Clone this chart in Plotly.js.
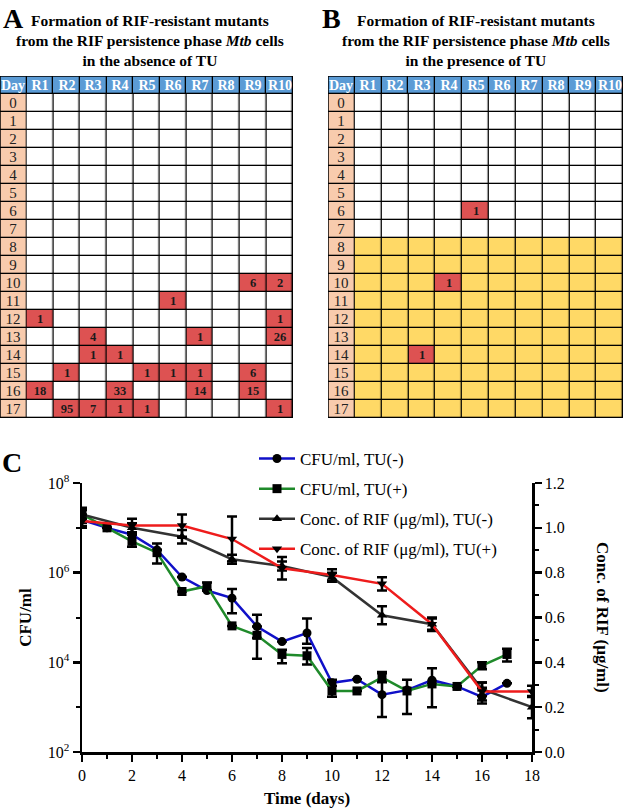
<!DOCTYPE html>
<html><head><meta charset="utf-8">
<script src="https://cdn.plot.ly/plotly-3.0.1.min.js"></script>
<style>html,body{margin:0;padding:0;background:#fff;} #chart{width:625px;height:811px;}</style>
</head><body><div id="chart"></div>
<script>
// ---------- Panels A & B: tables ----------
const replicates = ['R1','R2','R3','R4','R5','R6','R7','R8','R9','R10'];
const days = [0,1,2,3,4,5,6,7,8,9,10,11,12,13,14,15,16,17];
const headerLabel = 'Day';

// Panel A: RIF-resistant mutant counts (absence of TU)
const mutA_day   = [10,10,11,12,12,13,13,13,14,14,15,15,15,15,15,16,16,16,16,17,17,17,17,17];
const mutA_rep   = ['R9','R10','R6','R1','R10','R3','R7','R10','R3','R4','R2','R5','R6','R7','R9','R1','R4','R7','R9','R2','R3','R4','R5','R10'];
const mutA_count = [6,2,1,1,1,4,1,26,1,1,1,1,1,1,6,18,33,14,15,95,7,1,1,1];

// Panel B: counts (presence of TU), TU added from day 8
const mutB_day   = [6,10,14];
const mutB_rep   = ['R5','R4','R3'];
const mutB_count = [1,1,1];
const tuStartDayB = 8;

const titleA = 'Formation of RIF-resistant mutants<br>from the RIF persistence phase <i>Mtb</i> cells<br>in the absence of TU';
const titleB = 'Formation of RIF-resistant mutants<br>from the RIF persistence phase <i>Mtb</i> cells<br>in the presence of TU';

// ---------- Panel C: time course ----------
const timeCFU = [0,1,2,3,4,5,6,7,8,9,10,11,12,13,14,15,16,17];
const cfuTUminus = [1.5e7,1.0e7,7e6,3.2e6,8e5,4e5,2.7e5,6.3e4,2.9e4,4.5e4,3.5e3,4.2e3,1.9e3,2.4e3,4.0e3,2.9e3,1.7e3,3.4e3];
const cfuTUminusErrUp = [2e6,0,0,0,0,0,1.6e5,5.2e4,0,5e4,5e2,0,3.8e3,0,3.4e3,0,1e3,0];
const cfuTUminusErrDn = [2e6,0,0,0,0,0,1.45e5,2.8e4,0,1.9e4,5e2,0,1.3e3,0,3.0e3,0,5e2,0];
const cfuTUplus = [2.0e7,1.0e7,5e6,2.8e6,3.8e5,5e5,6.5e4,4e4,1.5e4,1.4e4,2.3e3,2.3e3,4.6e3,2.3e3,3.3e3,2.9e3,8.5e3,1.5e4];
const cfuTUplusErrUp = [8e6,0,2.8e6,1.7e6,0,1e5,0,2.3e4,4e3,7e3,1.8e3,0,1.5e3,1.8e3,0,0,1.5e3,5e3];
const cfuTUplusErrDn = [9e6,0,1.2e6,1.2e6,0,1e5,0,2.8e4,5.5e3,5e3,6e2,0,1e3,1.6e3,0,0,1.5e3,4.5e3];

const timeRIF = [0,2,4,6,8,10,12,14,16,18];
const rifTUminus = [1.06,1.0,0.96,0.86,0.83,0.78,0.61,0.57,0.28,0.20];
const rifTUminusErr = [0.02,0.02,0.03,0.02,0.02,0.02,0.04,0.03,0.03,0.05];
const rifTUplus = [1.03,1.01,1.01,0.95,0.82,0.79,0.75,0.57,0.27,0.27];
const rifTUplusErr = [0.03,0.03,0.05,0.10,0.05,0.025,0.03,0.025,0.04,0.025];

const seriesNames = ['CFU/ml, TU(-)','CFU/ml, TU(+)','Conc. of RIF (\u03bcg/ml), TU(-)','Conc. of RIF (\u03bcg/ml), TU(+)'];
const seriesColors = ['#1010c8','#1f8a2a','#333333','#ee1c1c'];
const logTickVals = [1e2,1e4,1e6,1e8];
const logTickText = ['10<sup>2</sup>','10<sup>4</sup>','10<sup>6</sup>','10<sup>8</sup>'];

// ---------- style ----------
const SERIF = 'Liberation Serif, Times New Roman, serif';
const W = 625, H = 811;
const colors = {white:'#ffffff', red:'#dd5252', yellow:'#ffd966', peach:'#f8cbad', blue:'#5b9bd5'};
const cscale = [[0,colors.white],[0.2,colors.white],[0.2,colors.red],[0.4,colors.red],[0.4,colors.yellow],[0.6,colors.yellow],[0.6,colors.peach],[0.8,colors.peach],[0.8,colors.blue],[1,colors.blue]];

function px2x(p){return p/W;}
function px2y(p){return 1-p/H;}

function tableTraces(xa, ya, mDay, mRep, mCount, tuStart){
  const colIdx = replicates.map((r,i)=>i+1);
  const z = [], txt = [];
  days.forEach(d=>{
    const zr = [], tr = [];
    replicates.forEach(r=>{
      let k = -1;
      for(let i=0;i<mDay.length;i++){ if(mDay[i]===d && mRep[i]===r){k=i;break;} }
      if(k>=0){ zr.push(1); tr.push(String(mCount[k])); }
      else { zr.push(tuStart!=null && d>=tuStart ? 2 : 0); tr.push(''); }
    });
    z.push(zr); txt.push(tr);
  });
  const common = {type:'heatmap', xaxis:xa, yaxis:ya, colorscale:cscale, zmin:-0.5, zmax:4.5, showscale:false, xgap:1.3, ygap:1.3, hoverinfo:'skip', texttemplate:'%{text}'};
  return [
    Object.assign({}, common, {x:colIdx, y:days, z:z, text:txt, textfont:{family:SERIF, size:12.5, color:'#1a1a1a', weight:'bold'}}),
    Object.assign({}, common, {x:[0], y:days, z:days.map(()=>[3]), text:days.map(d=>[String(d)]), textfont:{family:SERIF, size:15, color:'#222'}}),
    Object.assign({}, common, {x:[0].concat(colIdx), y:[-1], z:[[4].concat(colIdx.map(()=>4))], text:[[headerLabel].concat(replicates)], textfont:{family:SERIF, size:14, color:'#ffffff', weight:'bold'}})
  ];
}

const traces = [];
tableTraces('x2','y2',mutA_day,mutA_rep,mutA_count,null).forEach(t=>traces.push(t));
tableTraces('x3','y3',mutB_day,mutB_rep,mutB_count,tuStartDayB).forEach(t=>traces.push(t));

const errStyle = {color:'#000', thickness:2.5, width:5};
const mk = (sym)=>({symbol:sym, size:9, color:'#000'});
traces.push({type:'scatter', mode:'lines+markers', x:timeCFU, y:cfuTUminus, name:seriesNames[0], legendgroup:'a',
  line:{color:seriesColors[0], width:2.5}, marker:mk('circle'),
  error_y:Object.assign({type:'data', symmetric:false, array:cfuTUminusErrUp, arrayminus:cfuTUminusErrDn}, errStyle), xaxis:'x', yaxis:'y'});
traces.push({type:'scatter', mode:'lines+markers', x:timeCFU, y:cfuTUplus, name:seriesNames[1], legendgroup:'b',
  line:{color:seriesColors[1], width:2.5}, marker:mk('square'),
  error_y:Object.assign({type:'data', symmetric:false, array:cfuTUplusErrUp, arrayminus:cfuTUplusErrDn}, errStyle), xaxis:'x', yaxis:'y'});
traces.push({type:'scatter', mode:'lines+markers', x:timeRIF, y:rifTUminus, name:seriesNames[2], legendgroup:'c',
  line:{color:seriesColors[2], width:2.5}, marker:mk('triangle-up'),
  error_y:Object.assign({type:'data', array:rifTUminusErr}, errStyle), xaxis:'x', yaxis:'y4'});
traces.push({type:'scatter', mode:'lines+markers', x:timeRIF, y:rifTUplus, name:seriesNames[3], legendgroup:'d',
  line:{color:seriesColors[3], width:2.5}, marker:mk('triangle-down'),
  error_y:Object.assign({type:'data', array:rifTUplusErr}, errStyle), xaxis:'x', yaxis:'y4'});

const tableTop = 76, tableBottom = 418;
const hiddenAx = {showgrid:false, zeroline:false, showticklabels:false, ticks:'', showline:false, fixedrange:true};
const nCols = replicates.length + 1;

const tickFont = {family:SERIF, size:16, color:'#000'};
const axCommon = {showline:true, linewidth:2.5, linecolor:'#000', ticks:'outside', ticklen:7, tickwidth:2.5, tickcolor:'#000',
  showgrid:false, zeroline:false, tickfont:tickFont, automargin:false};

const layout = {
  width:W, height:H, margin:{l:0,r:0,t:0,b:0,pad:0},
  paper_bgcolor:'#fff', plot_bgcolor:'#fff', showlegend:true,
  font:{family:SERIF, color:'#000'},
  xaxis2:Object.assign({domain:[0, px2x(293)], range:[-0.5, nCols-0.5], anchor:'y2'}, hiddenAx),
  yaxis2:Object.assign({domain:[px2y(tableBottom), px2y(tableTop)], range:[days.length-0.5, -1.5], anchor:'x2'}, hiddenAx),
  xaxis3:Object.assign({domain:[px2x(328), px2x(623)], range:[-0.5, nCols-0.5], anchor:'y3'}, hiddenAx),
  yaxis3:Object.assign({domain:[px2y(tableBottom), px2y(tableTop)], range:[days.length-0.5, -1.5], anchor:'x3'}, hiddenAx),
  xaxis:Object.assign({}, axCommon, {domain:[px2x(82), px2x(532)], range:[0,18], tick0:0, dtick:2, anchor:'y',
    minor:{dtick:1, ticks:'outside', ticklen:4, tickwidth:2, tickcolor:'#000'},
    title:{text:'<b>Time (days)</b>', font:{family:SERIF, size:17}, standoff:10}}),
  yaxis:Object.assign({}, axCommon, {domain:[px2y(752), px2y(483)], type:'log', range:[2,8], anchor:'x',
    tickmode:'array', tickvals:logTickVals, ticktext:logTickText,
    minor:{tickmode:'array', tickvals:[1e3,1e5,1e7], ticks:'outside', ticklen:4, tickwidth:2, tickcolor:'#000'},
    title:{text:'<b>CFU/ml</b>', font:{family:SERIF, size:17}, standoff:12}}),
  yaxis4:Object.assign({}, axCommon, {domain:[px2y(752), px2y(483)], range:[0,1.2], dtick:0.2, tick0:0, tickformat:'.1f',
    overlaying:'y', side:'right', anchor:'x',
    minor:{dtick:0.1, ticks:'outside', ticklen:4, tickwidth:2, tickcolor:'#000'}}),
  legend:{x:px2x(254), y:px2y(441), xanchor:'left', yanchor:'top', bgcolor:'rgba(0,0,0,0)',
    font:{family:SERIF, size:17, color:'#000'}, traceorder:'grouped', tracegroupgap:5, itemwidth:36},
  shapes:[
    {type:'rect', xref:'x2', yref:'y2', x0:-0.5, x1:nCols-0.5, y0:-1.5, y1:days.length-0.5, fillcolor:'#000', line:{width:0}, layer:'below'},
    {type:'rect', xref:'x2', yref:'y2', x0:-0.5, x1:nCols-0.5, y0:-1.5, y1:days.length-0.5, fillcolor:'rgba(0,0,0,0)', line:{width:1.5, color:'#000'}, layer:'above'},
    {type:'rect', xref:'x3', yref:'y3', x0:-0.5, x1:nCols-0.5, y0:-1.5, y1:days.length-0.5, fillcolor:'#000', line:{width:0}, layer:'below'},
    {type:'rect', xref:'x3', yref:'y3', x0:-0.5, x1:nCols-0.5, y0:-1.5, y1:days.length-0.5, fillcolor:'rgba(0,0,0,0)', line:{width:1.5, color:'#000'}, layer:'above'}
  ],
  annotations:[
    {text:'<b>A</b>', xref:'paper', yref:'paper', x:px2x(1), y:px2y(1), xanchor:'left', yanchor:'top', showarrow:false, font:{family:SERIF, size:28}},
    {text:'<b>B</b>', xref:'paper', yref:'paper', x:px2x(320), y:px2y(1), xanchor:'left', yanchor:'top', showarrow:false, font:{family:SERIF, size:28}},
    {text:'<b>C</b>', xref:'paper', yref:'paper', x:px2x(0), y:px2y(445), xanchor:'left', yanchor:'top', showarrow:false, font:{family:SERIF, size:28}},
    {text:'<b>'+titleA+'</b>', xref:'paper', yref:'paper', x:px2x(150), y:px2y(41), xanchor:'center', yanchor:'middle', showarrow:false, font:{family:SERIF, size:15.5}},
    {text:'<b>'+titleB+'</b>', xref:'paper', yref:'paper', x:px2x(476), y:px2y(41), xanchor:'center', yanchor:'middle', showarrow:false, font:{family:SERIF, size:15.5}},
    {text:'<b>Conc. of RIF (\u03bcg/ml)</b>', xref:'paper', yref:'paper', x:px2x(603), y:px2y(617), xanchor:'center', yanchor:'middle', textangle:90, showarrow:false, font:{family:SERIF, size:17}}
  ]
};

Plotly.newPlot('chart', traces, layout, {staticPlot:true, displayModeBar:false});
</script></body></html>
